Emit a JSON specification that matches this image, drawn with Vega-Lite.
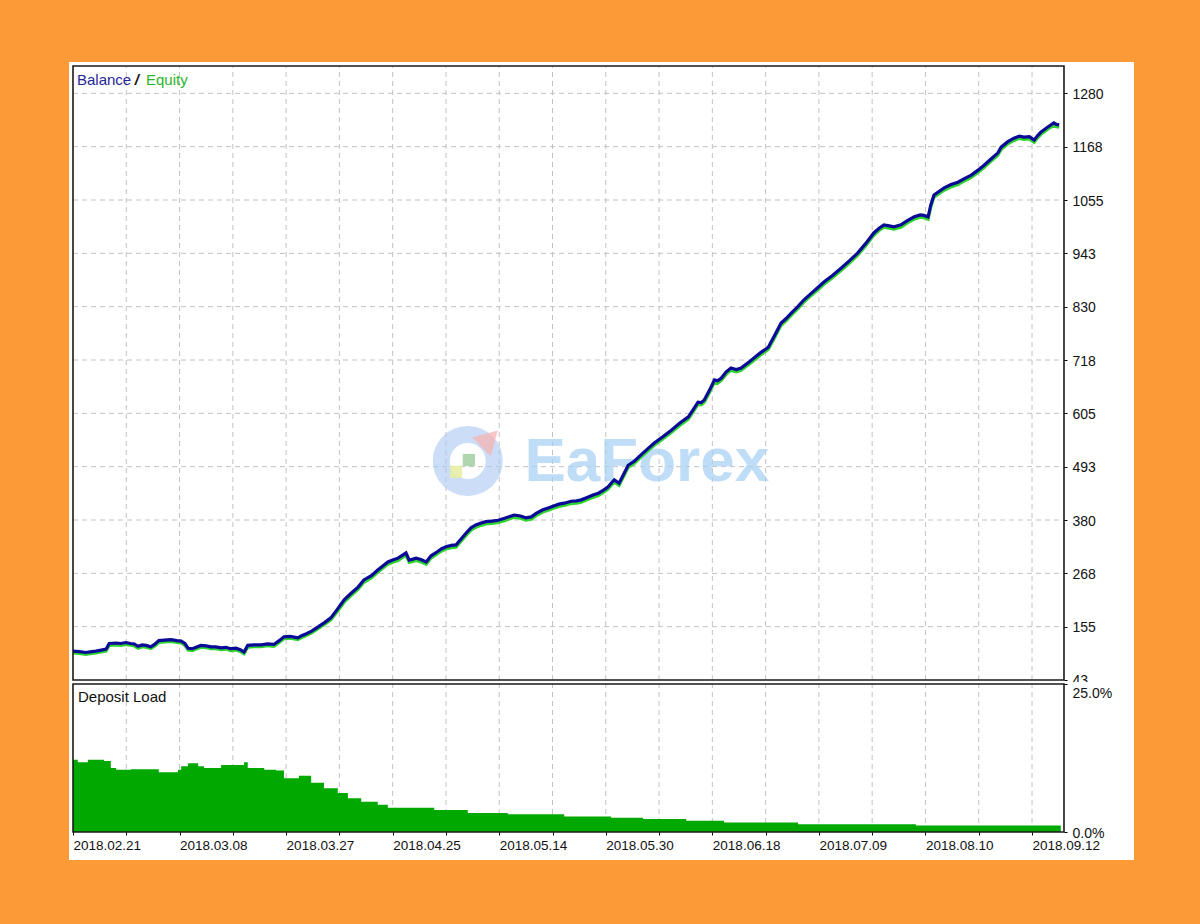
{
  "$schema": "https://vega.github.io/schema/vega-lite/v6.json",
  "background": "#FD9A38",
  "padding": {"left": 66, "top": 62, "right": 67, "bottom": 64},
  "autosize": {"type": "pad"},
  "bounds": "flush",
  "spacing": 0,
  "config": {
    "view": {"stroke": null, "fill": "white"},
    "font": "Liberation Sans",
    "text": {"font": "Liberation Sans"}
  },
  "datasets": {
    "gx": [{"g":100},{"g":200},{"g":300},{"g":400},{"g":500},{"g":600},{"g":700},{"g":800},{"g":900},{"g":1000},{"g":1100},{"g":1200},{"g":1300},{"g":1400},{"g":1500},{"g":1600},{"g":1700},{"g":1800}],
    "gy": [{"v":155.5},{"v":268},{"v":380.5},{"v":493},{"v":605.5},{"v":718},{"v":830.5},{"v":943},{"v":1055.5},{"v":1168},{"v":1280.5}],
    "main": [
      {"n":0,"bal":104,"eq":100},{"n":12,"bal":103,"eq":99},{"n":24,"bal":101,"eq":97},{"n":35,"bal":103,"eq":99},
      {"n":43,"bal":104,"eq":100},{"n":53,"bal":106,"eq":102},{"n":62,"bal":108,"eq":104},{"n":68,"bal":120,"eq":116},
      {"n":81,"bal":121,"eq":117},{"n":90,"bal":120,"eq":116},{"n":99,"bal":122,"eq":118},{"n":108,"bal":120,"eq":116},
      {"n":115,"bal":119,"eq":115},{"n":122,"bal":114,"eq":110},{"n":130,"bal":117,"eq":113},{"n":137,"bal":116,"eq":112},
      {"n":146,"bal":113,"eq":109},{"n":153,"bal":118,"eq":114},{"n":161,"bal":126,"eq":122},{"n":172,"bal":127,"eq":123},
      {"n":184,"bal":128,"eq":124},{"n":195,"bal":126,"eq":122},{"n":203,"bal":125,"eq":121},{"n":210,"bal":120,"eq":116},
      {"n":216,"bal":110,"eq":106},{"n":224,"bal":109,"eq":105},{"n":231,"bal":112,"eq":108},{"n":240,"bal":116,"eq":112},
      {"n":250,"bal":115,"eq":111},{"n":259,"bal":113,"eq":109},{"n":268,"bal":113,"eq":109},{"n":278,"bal":111,"eq":107},
      {"n":287,"bal":112,"eq":108},{"n":296,"bal":109,"eq":105},{"n":306,"bal":110,"eq":106},{"n":314,"bal":107,"eq":103},
      {"n":321,"bal":102,"eq":98},{"n":328,"bal":116,"eq":112},{"n":340,"bal":117,"eq":113},{"n":353,"bal":117,"eq":113},
      {"n":365,"bal":119,"eq":115},{"n":377,"bal":118,"eq":114},{"n":387,"bal":126,"eq":122},{"n":396,"bal":134,"eq":130},
      {"n":408,"bal":135,"eq":131},{"n":422,"bal":132,"eq":128},{"n":430,"bal":137,"eq":133},{"n":437,"bal":140,"eq":136},
      {"n":448,"bal":146,"eq":142},{"n":460,"bal":155,"eq":151},{"n":472,"bal":164,"eq":160},{"n":484,"bal":174,"eq":170},
      {"n":496,"bal":192,"eq":187},{"n":509,"bal":212,"eq":207},{"n":522,"bal":226,"eq":221},{"n":535,"bal":239,"eq":234},
      {"n":546,"bal":254,"eq":249},{"n":560,"bal":263,"eq":258},{"n":572,"bal":275,"eq":270},{"n":582,"bal":284,"eq":279},
      {"n":591,"bal":292,"eq":287},{"n":600,"bal":296,"eq":291},{"n":610,"bal":300,"eq":295},{"n":618,"bal":306,"eq":301},
      {"n":625,"bal":311,"eq":306},{"n":631,"bal":296,"eq":291},{"n":638,"bal":298,"eq":293},{"n":644,"bal":300,"eq":295},
      {"n":653,"bal":297,"eq":292},{"n":663,"bal":292,"eq":287},{"n":672,"bal":305,"eq":300},{"n":683,"bal":313,"eq":308},
      {"n":692,"bal":320,"eq":315},{"n":700,"bal":324,"eq":319},{"n":710,"bal":327,"eq":322},{"n":719,"bal":328,"eq":323},
      {"n":728,"bal":340,"eq":335},{"n":738,"bal":353,"eq":348},{"n":747,"bal":364,"eq":359},{"n":756,"bal":370,"eq":365},
      {"n":766,"bal":374,"eq":369},{"n":775,"bal":377,"eq":372},{"n":786,"bal":378,"eq":373},{"n":798,"bal":380,"eq":375},
      {"n":810,"bal":384,"eq":379},{"n":820,"bal":388,"eq":383},{"n":828,"bal":391,"eq":386},{"n":840,"bal":389,"eq":384},
      {"n":850,"bal":385,"eq":380},{"n":860,"bal":387,"eq":382},{"n":870,"bal":395,"eq":390},{"n":882,"bal":402,"eq":397},
      {"n":892,"bal":406,"eq":401},{"n":902,"bal":410,"eq":405},{"n":912,"bal":414,"eq":409},{"n":922,"bal":416,"eq":411},
      {"n":935,"bal":420,"eq":415},{"n":945,"bal":421,"eq":416},{"n":954,"bal":423,"eq":418},{"n":965,"bal":428,"eq":423},
      {"n":976,"bal":433,"eq":428},{"n":986,"bal":437,"eq":432},{"n":995,"bal":443,"eq":438},{"n":1004,"bal":450,"eq":445},
      {"n":1010,"bal":458,"eq":453},{"n":1016,"bal":465,"eq":460},{"n":1025,"bal":458,"eq":453},{"n":1034,"bal":478,"eq":473},
      {"n":1042,"bal":496,"eq":491},{"n":1054,"bal":505,"eq":500},{"n":1066,"bal":518,"eq":513},{"n":1078,"bal":530,"eq":525},
      {"n":1091,"bal":543,"eq":538},{"n":1107,"bal":556,"eq":551},{"n":1123,"bal":570,"eq":565},{"n":1139,"bal":585,"eq":580},
      {"n":1155,"bal":598,"eq":593},{"n":1165,"bal":615,"eq":610},{"n":1173,"bal":629,"eq":624},{"n":1179,"bal":628,"eq":623},
      {"n":1185,"bal":634,"eq":629},{"n":1195,"bal":655,"eq":650},{"n":1204,"bal":676,"eq":671},{"n":1210,"bal":674,"eq":669},
      {"n":1217,"bal":680,"eq":675},{"n":1226,"bal":693,"eq":688},{"n":1235,"bal":701,"eq":696},{"n":1245,"bal":698,"eq":693},
      {"n":1254,"bal":701,"eq":696},{"n":1262,"bal":708,"eq":703},{"n":1269,"bal":714,"eq":709},{"n":1278,"bal":722,"eq":717},
      {"n":1290,"bal":733,"eq":728},{"n":1305,"bal":745,"eq":740},{"n":1317,"bal":770,"eq":765},{"n":1329,"bal":796,"eq":791},
      {"n":1338,"bal":805,"eq":800},{"n":1348,"bal":817,"eq":812},{"n":1360,"bal":830,"eq":825},{"n":1372,"bal":845,"eq":840},
      {"n":1385,"bal":858,"eq":853},{"n":1397,"bal":870,"eq":865},{"n":1410,"bal":883,"eq":878},{"n":1426,"bal":897,"eq":892},
      {"n":1442,"bal":912,"eq":907},{"n":1458,"bal":928,"eq":923},{"n":1473,"bal":944,"eq":939},{"n":1488,"bal":964,"eq":959},
      {"n":1503,"bal":986,"eq":981},{"n":1513,"bal":996,"eq":991},{"n":1522,"bal":1003,"eq":998},{"n":1532,"bal":1001,"eq":996},
      {"n":1541,"bal":999,"eq":994},{"n":1554,"bal":1003,"eq":998},{"n":1566,"bal":1012,"eq":1007},{"n":1579,"bal":1020,"eq":1015},
      {"n":1590,"bal":1024,"eq":1019},{"n":1597,"bal":1023,"eq":1018},{"n":1605,"bal":1020,"eq":1015},{"n":1610,"bal":1045,"eq":1040},
      {"n":1616,"bal":1066,"eq":1061},{"n":1626,"bal":1074,"eq":1069},{"n":1635,"bal":1081,"eq":1076},{"n":1648,"bal":1088,"eq":1083},
      {"n":1661,"bal":1093,"eq":1088},{"n":1674,"bal":1101,"eq":1096},{"n":1686,"bal":1108,"eq":1103},{"n":1698,"bal":1118,"eq":1113},
      {"n":1710,"bal":1129,"eq":1124},{"n":1723,"bal":1142,"eq":1137},{"n":1736,"bal":1155,"eq":1150},{"n":1742,"bal":1167,"eq":1162},
      {"n":1754,"bal":1178,"eq":1173},{"n":1766,"bal":1186,"eq":1181},{"n":1776,"bal":1190,"eq":1185},{"n":1785,"bal":1188,"eq":1183},
      {"n":1795,"bal":1189,"eq":1184},{"n":1804,"bal":1182,"eq":1177},{"n":1811,"bal":1192,"eq":1187},{"n":1817,"bal":1199,"eq":1194},
      {"n":1829,"bal":1209,"eq":1204},{"n":1841,"bal":1218,"eq":1213},{"n":1846,"bal":1215,"eq":1210},{"n":1851,"bal":1214,"eq":1209}
    ],
    "dep": [
      {"n":0,"dl":12.2},{"n":9,"dl":11.8},{"n":28,"dl":12.2},{"n":58,"dl":12.0},{"n":71,"dl":10.8},{"n":81,"dl":10.5},
      {"n":109,"dl":10.6},{"n":152,"dl":10.6},{"n":161,"dl":10.1},{"n":184,"dl":10.1},{"n":197,"dl":10.5},{"n":203,"dl":11.1},
      {"n":216,"dl":11.6},{"n":235,"dl":11.1},{"n":246,"dl":10.8},{"n":272,"dl":10.8},{"n":278,"dl":11.3},{"n":315,"dl":11.3},
      {"n":321,"dl":11.8},{"n":328,"dl":10.8},{"n":359,"dl":10.5},{"n":381,"dl":10.4},{"n":396,"dl":9.1},{"n":415,"dl":9.1},
      {"n":424,"dl":9.5},{"n":447,"dl":8.3},{"n":471,"dl":7.4},{"n":497,"dl":6.6},{"n":516,"dl":5.7},{"n":541,"dl":5.1},
      {"n":572,"dl":4.6},{"n":591,"dl":4.1},{"n":672,"dl":4.1},{"n":678,"dl":3.7},{"n":723,"dl":3.7},{"n":741,"dl":3.2},
      {"n":809,"dl":3.2},{"n":816,"dl":3.0},{"n":916,"dl":3.0},{"n":922,"dl":2.6},{"n":1006,"dl":2.6},{"n":1010,"dl":2.4},
      {"n":1070,"dl":2.2},{"n":1151,"dl":1.9},{"n":1222,"dl":1.6},{"n":1361,"dl":1.3},{"n":1582,"dl":1.1},{"n":1854,"dl":1.1}
    ]
  },
  "vconcat": [
    {
      "width": 1065,
      "height": 620,
      "encoding": {
        "y": {"type": "quantitative", "scale": {"domain": [38.78, 1346.6], "nice": false, "zero": false},
          "axis": {"orient": "right", "offset": -70, "values": [43, 155.5, 268, 380.5, 493, 605.5, 718, 830.5, 943, 1055.5, 1168, 1280.5],
            "labelExpr": "'' + floor(datum.value)", "domain": false, "grid": false, "ticks": true, "tickSize": 3, "tickColor": "#000",
            "labelPadding": 5, "labelFont": "Liberation Sans", "labelFontSize": 14, "labelColor": "#111", "labelOffset": 1,
            "labelFlush": false, "labelOverlap": false, "labelBound": false, "title": null, "zindex": 2}}
      },
      "layer": [
        {
          "data": {"name": "gx"},
          "mark": {"type": "rule", "color": "#c2c2c2", "strokeDash": [5, 4], "strokeWidth": 1},
          "encoding": {
            "x": {"field": "g", "type": "quantitative", "scale": {"domain": [-7.5, 1991.4], "nice": false, "zero": false}, "axis": null},
            "y": {"datum": 43},
            "y2": {"datum": 1338.2}
          }
        },
        {
          "data": {"name": "gy"},
          "mark": {"type": "rule", "color": "#c2c2c2", "strokeDash": [5, 4], "strokeWidth": 1},
          "encoding": {
            "y": {"field": "v"},
            "x": {"datum": 0, "type": "quantitative", "scale": {"domain": [-7.5, 1991.4], "nice": false, "zero": false}, "axis": null},
            "x2": {"datum": 1860}
          }
        },
        {
          "data": {"values": [{}]},
          "mark": {"type": "point", "shape": "circle", "size": 2800, "filled": false, "stroke": "#a9c8f2", "strokeWidth": 17, "opacity": 0.6},
          "encoding": {
            "x": {"datum": 741, "type": "quantitative", "scale": {"domain": [-7.5, 1991.4], "nice": false, "zero": false}, "axis": null},
            "y": {"datum": 505}
          }
        },
        {
          "data": {"values": [{}]},
          "mark": {"type": "point", "shape": "triangle-up", "size": 700, "filled": true, "color": "#f5b3b3", "opacity": 0.75, "angle": 45},
          "encoding": {
            "x": {"datum": 782, "type": "quantitative", "scale": {"domain": [-7.5, 1991.4], "nice": false, "zero": false}, "axis": null},
            "y": {"datum": 552}
          }
        },
        {
          "data": {"values": [{}]},
          "mark": {"type": "point", "shape": "square", "size": 150, "filled": true, "color": "#9ccc9c", "opacity": 0.8},
          "encoding": {
            "x": {"datum": 743, "type": "quantitative", "scale": {"domain": [-7.5, 1991.4], "nice": false, "zero": false}, "axis": null},
            "y": {"datum": 507}
          }
        },
        {
          "data": {"values": [{}]},
          "mark": {"type": "point", "shape": "square", "size": 150, "filled": true, "color": "#e6eea0", "opacity": 0.85},
          "encoding": {
            "x": {"datum": 719, "type": "quantitative", "scale": {"domain": [-7.5, 1991.4], "nice": false, "zero": false}, "axis": null},
            "y": {"datum": 482}
          }
        },
        {
          "data": {"values": [{}]},
          "mark": {"type": "text", "text": "EaForex", "font": "Liberation Sans", "fontWeight": "bold", "fontSize": 62, "color": "#a6d0f4", "opacity": 0.7, "align": "center", "baseline": "middle"},
          "encoding": {
            "x": {"datum": 1077, "type": "quantitative", "scale": {"domain": [-7.5, 1991.4], "nice": false, "zero": false}, "axis": null},
            "y": {"datum": 503}
          }
        },
        {
          "data": {"name": "main"},
          "mark": {"type": "line", "color": "#2fd42f", "strokeWidth": 3},
          "encoding": {
            "x": {"field": "n", "type": "quantitative", "scale": {"domain": [-7.5, 1991.4], "nice": false, "zero": false}, "axis": null},
            "y": {"field": "eq"}
          }
        },
        {
          "data": {"name": "main"},
          "mark": {"type": "line", "color": "#0a0a96", "strokeWidth": 3.2},
          "encoding": {
            "x": {"field": "n", "type": "quantitative", "scale": {"domain": [-7.5, 1991.4], "nice": false, "zero": false}, "axis": null},
            "y": {"field": "bal"}
          }
        },
        {
          "data": {"values": [{}]},
          "mark": {"type": "text", "text": "Balance", "fontSize": 15, "color": "#25259a", "align": "left", "baseline": "alphabetic"},
          "encoding": {
            "x": {"datum": 7.5, "type": "quantitative", "scale": {"domain": [-7.5, 1991.4], "nice": false, "zero": false}, "axis": null},
            "y": {"datum": 1298}
          }
        },
        {
          "data": {"values": [{}]},
          "mark": {"type": "text", "text": "/", "fontSize": 15, "fontStyle": "italic", "fontWeight": "bold", "color": "#111", "align": "center", "baseline": "alphabetic"},
          "encoding": {
            "x": {"datum": 120, "type": "quantitative", "scale": {"domain": [-7.5, 1991.4], "nice": false, "zero": false}, "axis": null},
            "y": {"datum": 1298}
          }
        },
        {
          "data": {"values": [{}]},
          "mark": {"type": "text", "text": "Equity", "fontSize": 15, "color": "#2bb52b", "align": "left", "baseline": "alphabetic"},
          "encoding": {
            "x": {"datum": 137, "type": "quantitative", "scale": {"domain": [-7.5, 1991.4], "nice": false, "zero": false}, "axis": null},
            "y": {"datum": 1298}
          }
        },
        {
          "data": {"values": [{}]},
          "mark": {"type": "rect", "fill": null, "stroke": "#1a1a1a", "strokeWidth": 1.6},
          "encoding": {
            "x": {"datum": 0, "type": "quantitative", "scale": {"domain": [-7.5, 1991.4], "nice": false, "zero": false}, "axis": null},
            "x2": {"datum": 1860},
            "y": {"datum": 43},
            "y2": {"datum": 1338.2}
          }
        }
      ]
    },
    {
      "width": 1065,
      "height": 178,
      "encoding": {
        "x": {"type": "quantitative", "scale": {"domain": [-7.5, 1991.4], "nice": false, "zero": false},
          "axis": {"orient": "bottom", "offset": -28, "values": [0,100,200,300,400,500,600,700,800,900,1000,1100,1200,1300,1400,1500,1600,1700,1800],
            "labelExpr": "datum.value % 200 == 0 ? ['2018.02.21','2018.03.08','2018.03.27','2018.04.25','2018.05.14','2018.05.30','2018.06.18','2018.07.09','2018.08.10','2018.09.12'][datum.value / 200] : ''",
            "labelAlign": "left", "labelBaseline": "top", "labelPadding": 3, "tickSize": 3, "tickColor": "#000", "domain": false, "grid": false,
            "labelFlush": false, "labelOverlap": false, "labelBound": false, "labelFont": "Liberation Sans", "labelFontSize": 13.5, "labelColor": "#111", "title": null, "zindex": 2}},
        "y": {"type": "quantitative", "scale": {"domain": [-4.73, 25.338], "nice": false, "zero": false},
          "axis": {"orient": "right", "offset": -70, "values": [0, 25],
            "labelExpr": "datum.value == 0 ? '0.0%' : '25.0%'",
            "labelBaseline": {"condition": {"test": "datum.value == 25", "value": "top"}, "value": "middle"},
            "labelOffset": 2, "domain": false, "grid": false, "tickSize": 3, "tickColor": "#000", "labelPadding": 5,
            "labelFont": "Liberation Sans", "labelFontSize": 14, "labelColor": "#111", "labelFlush": false, "labelOverlap": false, "labelBound": false, "title": null, "zindex": 3}}
      },
      "layer": [
        {
          "data": {"name": "gx"},
          "mark": {"type": "rule", "color": "#c2c2c2", "strokeDash": [5, 4], "strokeWidth": 1},
          "encoding": {
            "x": {"field": "g"},
            "y": {"datum": 0},
            "y2": {"datum": 25}
          }
        },
        {
          "data": {"name": "dep"},
          "mark": {"type": "area", "interpolate": "step-after", "color": "#00a800"},
          "encoding": {
            "x": {"field": "n"},
            "y": {"field": "dl"},
            "y2": {"datum": 0}
          }
        },
        {
          "data": {"values": [{}]},
          "mark": {"type": "text", "text": "Deposit Load", "fontSize": 15, "color": "#111", "align": "left", "baseline": "alphabetic"},
          "encoding": {
            "x": {"datum": 9.4},
            "y": {"datum": 21.96}
          }
        },
        {
          "data": {"values": [{}]},
          "mark": {"type": "rect", "fill": null, "stroke": "#1a1a1a", "strokeWidth": 1.6},
          "encoding": {
            "x": {"datum": 0},
            "x2": {"datum": 1860},
            "y": {"datum": 0},
            "y2": {"datum": 25}
          }
        }
      ]
    }
  ]
}
